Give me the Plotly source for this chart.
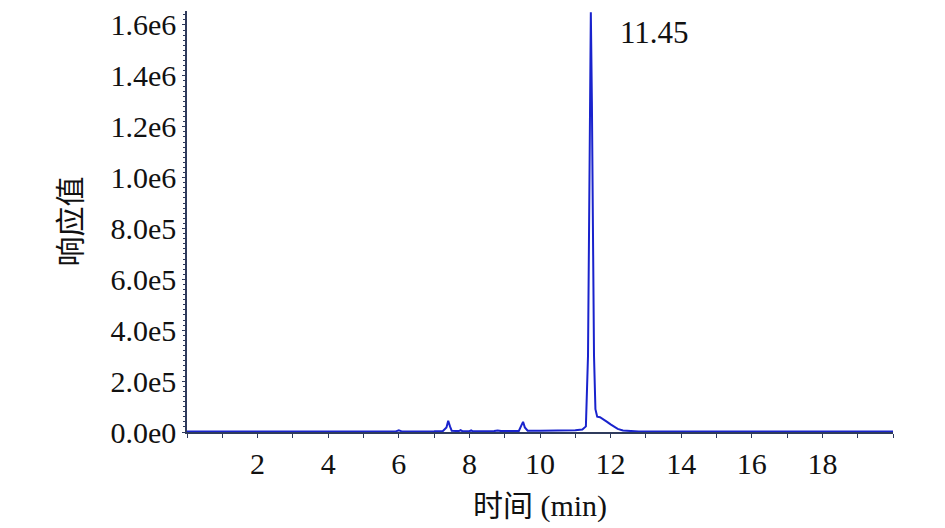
import plotly.graph_objects as go

# Retention time (min) and detector response
time_min = [0.0, 5.9, 6.0, 6.1, 7.0, 7.25, 7.35, 7.4, 7.45, 7.5, 7.7, 7.75, 7.8,
            8.0, 8.05, 8.1, 8.7, 8.8, 8.9, 9.4, 9.47, 9.52, 9.57, 9.65, 10.0,
            10.5, 11.0, 11.2, 11.3, 11.36, 11.40, 11.44, 11.47, 11.50, 11.53,
            11.57, 11.62, 11.7, 11.8, 11.9, 12.0, 12.1, 12.2, 12.35, 12.6, 12.8, 20.0]
response = [1500, 1500, 7000, 1500, 2500, 4000, 18000, 44000, 22000, 4500, 3500, 7000, 3000,
            3000, 6000, 2500, 3500, 5500, 3500, 4000, 25000, 40000, 18000, 5000, 5000,
            5500, 6500, 10000, 22000, 300000, 1000000, 1650000, 1300000, 700000, 300000,
            90000, 60000, 58000, 50000, 40000, 30000, 20000, 12000, 6000, 3500, 1500, 1500]

x_tick_vals = [2, 4, 6, 8, 10, 12, 14, 16, 18]
y_tick_vals = [0, 2e5, 4e5, 6e5, 8e5, 1.0e6, 1.2e6, 1.4e6, 1.6e6]
y_tick_text = ["0.0e0", "2.0e5", "4.0e5", "6.0e5", "8.0e5", "1.0e6", "1.2e6", "1.4e6", "1.6e6"]

peak_label = "11.45"
peak_label_pos = (13.25, 1.57e6)

font_family = "Liberation Serif, Noto Sans CJK SC, serif"
axis_color = "#2f3b5c"

fig = go.Figure()
fig.add_trace(go.Scatter(
    x=time_min, y=response, mode="lines",
    line=dict(color="rgb(25,35,205)", width=2),
    hoverinfo="skip", showlegend=False,
))

fig.add_annotation(
    x=peak_label_pos[0], y=peak_label_pos[1], text=peak_label,
    showarrow=False, font=dict(family=font_family, size=31, color="#111"),
)

fig.update_layout(
    width=945, height=528,
    margin=dict(l=179, r=60, t=3, b=104, autoexpand=False),
    paper_bgcolor="white", plot_bgcolor="white",
    font=dict(family=font_family, size=30, color="#111"),
)

fig.update_xaxes(
    range=[0, 20],
    tickvals=x_tick_vals,
    ticks="outside", ticklen=4, tickwidth=1, tickcolor=axis_color,
    minor=dict(dtick=1, ticks="outside", ticklen=4, tickcolor=axis_color),
    showline=True, linecolor=axis_color, linewidth=2,
    showgrid=False, zeroline=False, automargin=False,
    ticklabeloverflow="allow",
    tickfont=dict(family=font_family, size=30),
    title=dict(text="时间 (min)", font=dict(family=font_family, size=30), standoff=16),
)

fig.update_yaxes(
    range=[0, 1.655e6],
    tickvals=y_tick_vals, ticktext=y_tick_text,
    ticks="outside", ticklen=3, tickwidth=1, tickcolor=axis_color,
    minor=dict(dtick=2e4, ticks="outside", ticklen=2, tickcolor=axis_color),
    showline=True, linecolor=axis_color, linewidth=1.5,
    showgrid=False, zeroline=False, automargin=False,
    ticklabeloverflow="allow",
    tickfont=dict(family=font_family, size=30),
    title=dict(text="响应值", font=dict(family=font_family, size=30), standoff=20),
)

fig.write_html("out.html")
